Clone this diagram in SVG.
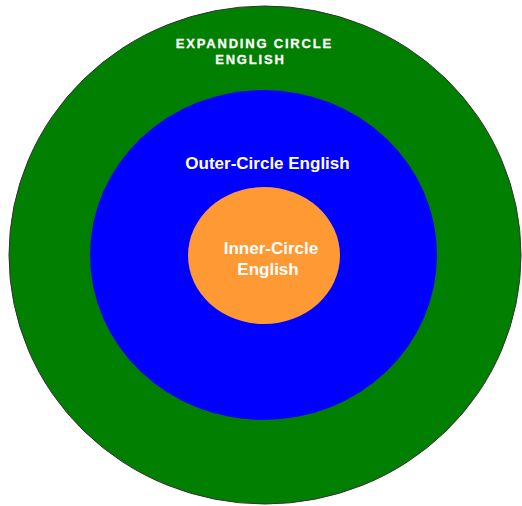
<svg xmlns="http://www.w3.org/2000/svg" width="522" height="506" viewBox="0 0 522 506">
<style>
text{font-family:"Liberation Sans",Arial,sans-serif;font-weight:bold;fill:#ffffff;text-anchor:middle}
.s{font-size:13px;letter-spacing:1.8px;stroke:#ffffff;stroke-width:0.3px}
.m{font-size:17px}
</style>
<rect width="522" height="506" fill="#ffffff"/>
<g id="expanding">
<ellipse cx="265" cy="255" rx="256" ry="249" fill="#007f00" stroke="#333333" stroke-width="1"/>
<text class="s" x="254.4" y="47.5">EXPANDING CIRCLE</text>
<text class="s" x="250.4" y="63.5">ENGLISH</text>
</g>
<g id="outer">
<ellipse cx="263.5" cy="255" rx="173.5" ry="165" fill="#0000ff"/>
<text class="m" x="267.5" y="169">Outer-Circle English</text>
</g>
<g id="inner">
<ellipse cx="264" cy="255.5" rx="76" ry="68.5" fill="#ff9933"/>
<text class="m" x="271" y="254">Inner-Circle</text>
<text class="m" x="268" y="275">English</text>
</g>
<g id="connectors"/>
</svg>
